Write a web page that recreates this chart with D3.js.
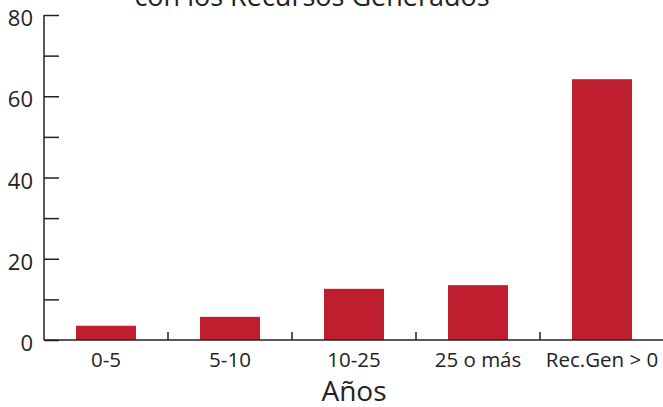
<!DOCTYPE html>
<html><head><meta charset="utf-8">
<script src="https://cdn.jsdelivr.net/npm/d3@7"></script>
<style>body{margin:0;background:#fff}svg{display:block}text{font-family:"Open Sans",sans-serif;fill:#222}</style>
</head><body>
<svg id="c" width="663" height="407"></svg>
<script>
const categories = ["0-5", "5-10", "10-25", "25 o más", "Rec.Gen > 0"];
const values = [3.5, 5.7, 12.6, 13.5, 64.2];
const yTicks = [0, 20, 40, 60, 80];
const yMinorTicks = [10, 30, 50, 70];
const titleText = "con los Recursos Generados";
const xLabel = "Años";

(function () {
const svg = d3.select("#c");
const mLeft = 44, mRight = 664, mTop = 15, mBottom = 340;
const x = d3.scaleBand().domain(categories).range([mLeft, mRight]).paddingInner(0.516).paddingOuter(0.258);
const xb = d3.scaleBand().domain(categories).range([mLeft, mRight]);
const y = d3.scaleLinear().domain([0, 80]).range([mBottom, mTop]);

svg.append("text").attr("x", 312).attr("y", 6).attr("text-anchor", "middle")
  .style("font-size", "27px").text(titleText);

svg.selectAll("rect.bar").data(values).join("rect").attr("class", "bar")
  .attr("x", (d, i) => x(categories[i])).attr("width", x.bandwidth())
  .attr("y", d => y(d)).attr("height", d => y(0) - y(d)).attr("fill", "#be1e2d");

// y axis
const ya = svg.append("g").attr("transform", `translate(${mLeft},0)`)
  .call(d3.axisRight(y).tickValues(yTicks.concat(yMinorTicks)).tickSize(15).tickFormat(""));
ya.select(".domain").remove();
ya.selectAll("line").attr("stroke", "#222").attr("stroke-width", 1.5);
svg.append("line").attr("x1", mLeft).attr("x2", mLeft).attr("y1", y(80)).attr("y2", y(0))
  .attr("stroke", "#222").attr("stroke-width", 1.5);
svg.selectAll("text.yl").data(yTicks).join("text").attr("class", "yl")
  .attr("x", 33).attr("y", d => y(d) + 11).attr("text-anchor", "end")
  .style("font-size", "22px").text(d => d);

// x axis
svg.append("line").attr("x1", mLeft).attr("x2", mRight).attr("y1", y(0)).attr("y2", y(0))
  .attr("stroke", "#222").attr("stroke-width", 1.5);
svg.selectAll("line.xt").data(categories.slice(1)).join("line").attr("class", "xt")
  .attr("x1", d => xb(d)).attr("x2", d => xb(d)).attr("y1", y(0)).attr("y2", y(0) - 8)
  .attr("stroke", "#222").attr("stroke-width", 1.5);
svg.selectAll("text.xl").data(categories).join("text").attr("class", "xl")
  .attr("x", d => x(d) + x.bandwidth() / 2).attr("y", 367).attr("text-anchor", "middle")
  .style("font-size", "20.5px").text(d => d);

svg.append("text").attr("x", 354).attr("y", 401).attr("text-anchor", "middle")
  .style("font-size", "28px").text(xLabel);
})();
</script>
</body></html>
